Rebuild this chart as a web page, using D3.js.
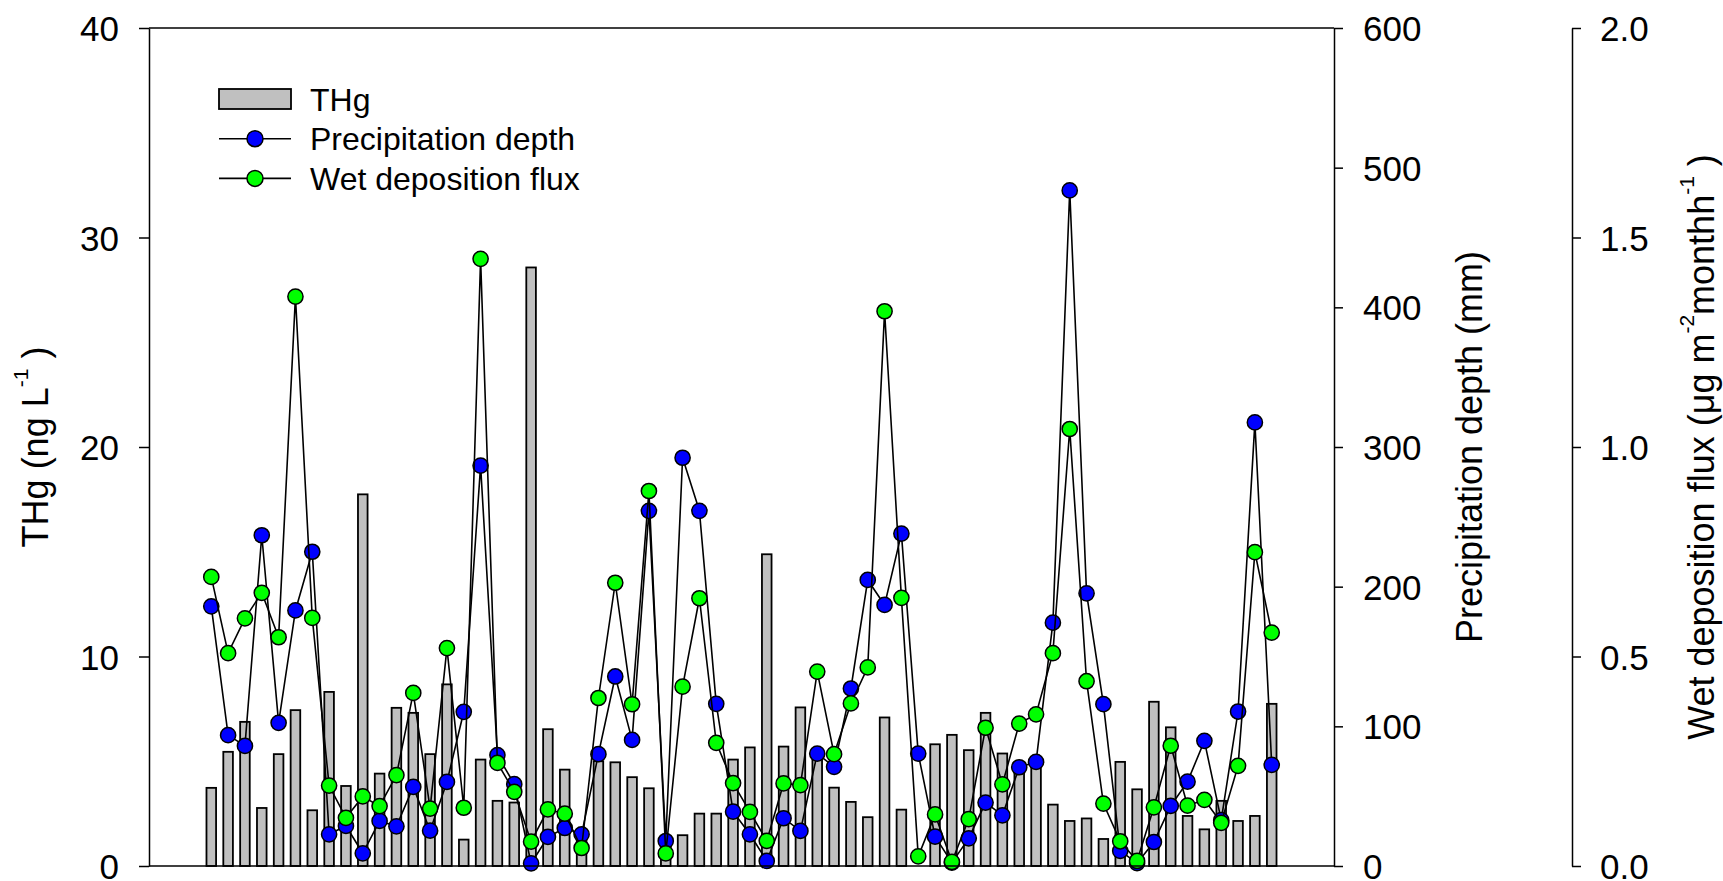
<!DOCTYPE html>
<html>
<head>
<meta charset="utf-8">
<script src="https://cdn.jsdelivr.net/npm/d3@7"></script>
<style>
body { margin: 0; background: #fff; }
text { font-family: "Liberation Sans", Arial, sans-serif; fill: #000; }
</style>
</head>
<body>
<div id="chart"></div>
<script>
// Monthly THg concentration (ng/L)
var thgValues = [3.73, 5.45, 6.88, 2.77, 5.34, 7.44, 2.66, 8.31, 3.82, 17.74,
    4.41, 7.55, 7.31, 5.34, 8.67, 1.26, 5.08, 3.11, 3.03, 28.57,
    6.53, 4.6, 1.6, 5.0, 4.95, 4.24, 3.71, 1.0, 1.47, 2.5,
    2.5, 5.08, 5.66, 14.88, 5.7, 7.57, 5.5, 3.74, 3.06, 2.33,
    7.09, 2.69, 0, 5.81, 6.26, 5.53, 7.31, 5.37, 4.7, 5.1,
    2.93, 2.15, 2.27, 1.29, 4.97, 3.66, 7.84, 6.62, 2.39, 1.75,
    3.11, 2.15, 2.39, 7.74];

// Precipitation depth (mm), blue points
var precipValues = [185.9, 93.7, 86, 236.8, 102.5, 183, 225, 22.7, 28.7, 9.1,
    32.3, 28.4, 56.6, 25.3, 60.2, 110.4, 286.7, 79.4, 58.6, 1.9,
    20.8, 27.2, 22.7, 80.1, 135.7, 90.3, 254.3, 17.9, 292.3, 254.3,
    116.1, 38.9, 22.7, 3.6, 34.2, 25.1, 80.5, 71, 127.1, 204.8,
    186.9, 238, 80.5, 21, 2.4, 19.8, 45.4, 36.3, 70.7, 74.5,
    174.2, 483.7, 195.2, 115.9, 10.8, 2, 17.2, 43, 60.4, 89.6,
    32.8, 110.6, 317.6, 72.4];

// Wet deposition flux (ug m-2 month-1), green points
var fluxValues = [0.69, 0.508, 0.591, 0.652, 0.546, 1.359, 0.592, 0.192, 0.115, 0.166,
    0.143, 0.217, 0.413, 0.137, 0.52, 0.139, 1.449, 0.246, 0.177, 0.058,
    0.135, 0.125, 0.043, 0.401, 0.676, 0.386, 0.895, 0.03, 0.428, 0.639,
    0.294, 0.198, 0.129, 0.06, 0.197, 0.193, 0.464, 0.267, 0.388, 0.474,
    1.324, 0.64, 0.023, 0.123, 0.01, 0.112, 0.33, 0.195, 0.34, 0.362,
    0.508, 1.043, 0.441, 0.149, 0.059, 0.012, 0.14, 0.287, 0.144, 0.158,
    0.103, 0.239, 0.749, 0.557];

// Sample numbers (x categories, no labels shown)
var samples = thgValues.map((d, i) => i + 1);

// Tick labels
var thgTicks = [0, 10, 20, 30, 40];
var precipTicks = [0, 100, 200, 300, 400, 500, 600];
var fluxTicks = [0, 0.5, 1.0, 1.5, 2.0];

var legendItems = ["THg", "Precipitation depth", "Wet deposition flux"];

// Dimensions
var svgWidth = 1723;
var svgHeight = 881;
var margin = { top: 28, left: 149 };
var width = 1185;
var height = 838;
var fluxAxisX = 1572 - margin.left;

var svg = d3.select("#chart")
    .append("svg")
    .attr("width", svgWidth)
    .attr("height", svgHeight);

var chartGroup = svg.append("g")
    .attr("transform", `translate(${margin.left}, ${margin.top})`);

// Scales
var xScale = d3.scalePoint()
    .domain(samples)
    .range([0, width])
    .padding(3.7);
var yThg = d3.scaleLinear().domain([0, 40]).range([height, 0]);
var yPrecip = d3.scaleLinear().domain([0, 600]).range([height, 0]);
var yFlux = d3.scaleLinear().domain([0, 2]).range([height, 0]);

// Bars
var barWidth = 9.6;
chartGroup.selectAll(".bar")
    .data(thgValues.map((v, i) => ({ s: samples[i], v: v })).filter(d => d.v > 0))
    .enter()
    .append("rect")
    .attr("class", "bar")
    .attr("x", d => xScale(d.s) - barWidth / 2)
    .attr("y", d => yThg(d.v))
    .attr("width", barWidth)
    .attr("height", d => height - yThg(d.v))
    .style("fill", "#c0c0c0")
    .style("stroke", "#000")
    .style("stroke-width", 1.8);

// Line + symbols for one series
function drawSeries(values, yScale, color) {
    var line = d3.line()
        .x((d, i) => xScale(samples[i]))
        .y(d => yScale(d));
    chartGroup.append("path")
        .datum(values)
        .attr("d", line)
        .style("fill", "none")
        .style("stroke", "#000")
        .style("stroke-width", 1.6);
    chartGroup.selectAll(null)
        .data(values)
        .enter()
        .append("circle")
        .attr("cx", (d, i) => xScale(samples[i]))
        .attr("cy", d => yScale(d))
        .attr("r", 7.6)
        .style("fill", color)
        .style("stroke", "#000")
        .style("stroke-width", 1.5);
}
drawSeries(precipValues, yPrecip, "#0000ff");
drawSeries(fluxValues, yFlux, "#00ff00");

// Frame lines top and bottom
chartGroup.append("line")
    .attr("x1", 0).attr("x2", width).attr("y1", 0).attr("y2", 0)
    .style("stroke", "#000").style("stroke-width", 1.5);
chartGroup.append("line")
    .attr("x1", 0).attr("x2", width).attr("y1", height).attr("y2", height)
    .style("stroke", "#000").style("stroke-width", 1.5);

// Axes
function styleAxis(g) {
    g.attr("font-size", 35)
        .attr("font-family", "Liberation Sans, Arial, sans-serif");
    g.selectAll("path, line").style("stroke", "#000").style("stroke-width", 1.5);
    g.selectAll("text").attr("dy", "0.36em");
}

chartGroup.append("g")
    .call(d3.axisLeft(yThg).tickValues(thgTicks).tickSize(10).tickSizeOuter(0).tickPadding(20))
    .call(styleAxis);

chartGroup.append("g")
    .attr("transform", `translate(${width}, 0)`)
    .call(d3.axisRight(yPrecip).tickValues(precipTicks).tickSize(9).tickSizeOuter(0).tickPadding(20))
    .call(styleAxis);

chartGroup.append("g")
    .attr("transform", `translate(${fluxAxisX}, 0)`)
    .call(d3.axisRight(yFlux).tickValues(fluxTicks).tickSize(9).tickSizeOuter(0).tickPadding(19)
        .tickFormat(d3.format(".1f")))
    .call(styleAxis);

// Axis titles
var midY = margin.top + height / 2;

var thgTitle = svg.append("text")
    .attr("transform", `translate(48, ${midY}) rotate(-90)`)
    .attr("text-anchor", "middle")
    .attr("font-size", 36);
thgTitle.append("tspan").text("THg (ng L");
thgTitle.append("tspan").attr("font-size", 21).attr("dy", -20).text("-1");
thgTitle.append("tspan").attr("dy", 20).text(" )");

svg.append("text")
    .attr("transform", `translate(1482, ${midY}) rotate(-90)`)
    .attr("text-anchor", "middle")
    .attr("font-size", 36)
    .text("Precipitation depth (mm)");

var fluxTitle = svg.append("text")
    .attr("transform", `translate(1714, ${midY}) rotate(-90)`)
    .attr("text-anchor", "middle")
    .attr("font-size", 36);
fluxTitle.append("tspan").text("Wet deposition flux (μg m");
fluxTitle.append("tspan").attr("font-size", 21).attr("dy", -20).text("-2");
fluxTitle.append("tspan").attr("dy", 20).text("monthh");
fluxTitle.append("tspan").attr("font-size", 21).attr("dy", -20).text("-1");
fluxTitle.append("tspan").attr("dy", 20).text(" )");

// Legend
var legend = svg.append("g").attr("transform", "translate(219, 99)");
var rowGap = 39.7;

legend.append("rect")
    .attr("x", 0).attr("y", -10)
    .attr("width", 72).attr("height", 20)
    .style("fill", "#c0c0c0")
    .style("stroke", "#000")
    .style("stroke-width", 1.8);

[["#0000ff", 1], ["#00ff00", 2]].forEach(function (item) {
    var cy = item[1] * rowGap;
    legend.append("line")
        .attr("x1", 0).attr("x2", 72).attr("y1", cy).attr("y2", cy)
        .style("stroke", "#000").style("stroke-width", 1.6);
    legend.append("circle")
        .attr("cx", 36).attr("cy", cy).attr("r", 8)
        .style("fill", item[0])
        .style("stroke", "#000")
        .style("stroke-width", 1.5);
});

legend.selectAll("text")
    .data(legendItems)
    .enter()
    .append("text")
    .attr("x", 91)
    .attr("y", (d, i) => i * rowGap)
    .attr("dy", "0.36em")
    .attr("font-size", 32)
    .text(d => d);
</script>
</body>
</html>
